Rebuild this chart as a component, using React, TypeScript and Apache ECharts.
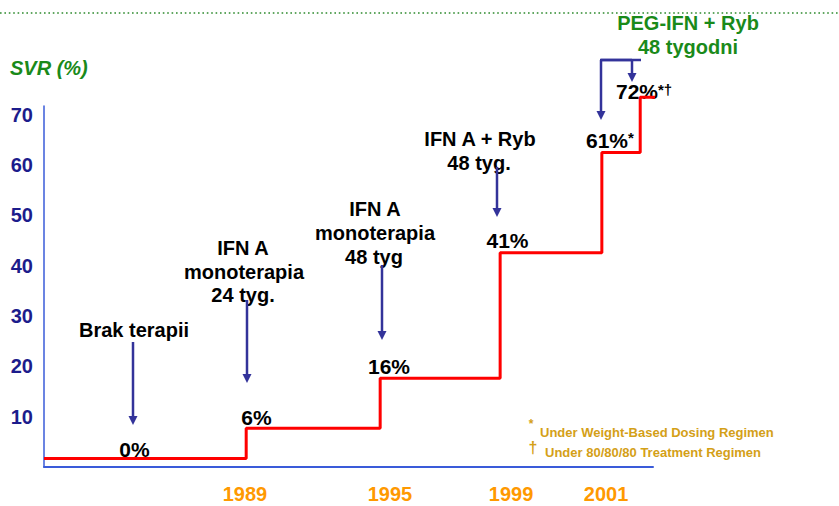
import React, { useEffect, useRef } from 'react';
import * as echarts from 'echarts';

// ---- data ----
const periods = [
  'Brak terapii',
  'IFN A monoterapia 24 tyg.',
  'IFN A monoterapia 48 tyg',
  'IFN A + Ryb 48 tyg.',
  'PEG-IFN + Ryb 48 tygodni (weight-based)',
  'PEG-IFN + Ryb 48 tygodni (80/80/80)',
];
const svrValues = [0, 6, 16, 41, 61, 72];
const periodStart = [0, 33.2, 55.2, 74.9, 91.6, 97.9]; // timeline position (0-100 scale)
const timelineEnd = 104.3;
const yearLabels = ['1989', '1995', '1999', '2001'];
const yearPositions = [33.0, 56.8, 76.7, 92.3];
const yTickValues = [10, 20, 30, 40, 50, 60, 70];
const valueTexts = ['0%', '6%', '16%', '41%', '61%', '72%'];
const valueMarks = ['', '', '', '', '*', '*†'];
const footnotes = ['Under Weight-Based Dosing Regimen', 'Under 80/80/80 Treatment Regimen'];

// ---- layout / styles ----
const FONT = '"Liberation Sans", Arial, Helvetica, sans-serif';
const BLACK = '#000000';
const GREEN = '#1a8a1a';
const ARROW = '#33339a';
const GOLD = '#d4a017';
const AXIS_BLUE = '#3a5bd9';

const txt = (text: string, x: number, y: number, size: number, fill: string, align = 'center', extra: any = {}) => ({
  type: 'text',
  x,
  y,
  silent: true,
  style: {
    text,
    x: 0,
    y: 0,
    fill,
    font: `${extra.italic ? 'italic ' : ''}bold ${size}px ${FONT}`,
    align,
    verticalAlign: 'middle',
    textAlign: align,
    textVerticalAlign: 'middle',
  },
});

const arrow = (x: number, y1: number, y2: number) => [
  { type: 'line', silent: true, shape: { x1: x, y1, x2: x, y2: y2 - 6 }, style: { stroke: ARROW, lineWidth: 2.5 } },
  {
    type: 'polygon',
    silent: true,
    shape: { points: [[x - 4.5, y2 - 9], [x + 4.5, y2 - 9], [x, y2]] },
    style: { fill: ARROW },
  },
];

const annotationLines: [string, number, number][] = [
  ['Brak terapii', 134, 330],
  ['IFN A', 243, 248],
  ['monoterapia', 244, 272],
  ['24 tyg.', 243, 295],
  ['IFN A', 375, 209],
  ['monoterapia', 375, 233],
  ['48 tyg', 374, 257],
  ['IFN A + Ryb', 480, 139],
  ['48 tyg.', 479, 163],
];
const valueLabelPos: [number, number, string][] = [
  [134.5, 449, 'center'],
  [256.5, 417, 'center'],
  [389, 366, 'center'],
  [507.5, 240, 'center'],
  [586, 140, 'left'],
  [616, 91, 'left'],
];
const markPos: [number, number][] = [
  [0, 0], [0, 0], [0, 0], [0, 0],
  [628, 137],
  [658, 89],
];
const arrows: [number, number, number][] = [
  [133, 342, 425],
  [247, 300, 383],
  [382, 265, 340],
  [497, 167, 217],
  [601, 60, 120],
  [632, 60, 82],
];

export default function App() {
  const ref = useRef<HTMLDivElement>(null);
  useEffect(() => {
    document.body.style.margin = '0';
    const chart = echarts.init(ref.current!, null, { renderer: 'svg' });

    const lineData = periodStart.map((x, i) => [x, svrValues[i]]);
    lineData.push([timelineEnd, svrValues[svrValues.length - 1]]);

    const graphics: any[] = [];
    // top dotted rule
    graphics.push({
      type: 'line', silent: true,
      shape: { x1: 0, y1: 13, x2: 839, y2: 13 },
      style: { stroke: '#2e8b2e', lineWidth: 1.6, lineDash: [1.6, 2.8] },
    });
    graphics.push(txt('SVR (%)', 10, 68, 20, GREEN, 'left', { italic: true }));
    graphics.push(txt('PEG-IFN + Ryb', 688, 23, 20, GREEN));
    graphics.push(txt('48 tygodni', 688, 47, 20, GREEN));
    annotationLines.forEach(([t, x, y]) => graphics.push(txt(t, x, y, 20, BLACK)));
    arrows.forEach(([x, a, b]) => graphics.push(...arrow(x, a, b)));
    graphics.push({ type: 'line', silent: true, shape: { x1: 601, y1: 60, x2: 632, y2: 60 }, style: { stroke: ARROW, lineWidth: 2.5 } });
    graphics.push({ type: 'line', silent: true, shape: { x1: 600, y1: 60, x2: 641, y2: 60 }, style: { stroke: ARROW, lineWidth: 2.5 } });
    valueTexts.forEach((t, i) => {
      const [x, y, al] = valueLabelPos[i];
      graphics.push(txt(t, x, y, 21, BLACK, al));
      if (valueMarks[i]) {
        const [mx, my] = markPos[i];
        graphics.push(txt(valueMarks[i], mx, my, 15, BLACK, 'left'));
      }
    });
    // footnotes
    graphics.push(txt('*', 531, 424, 12, GOLD, 'center'));
    graphics.push(txt(footnotes[0], 540, 432, 13, GOLD, 'left'));
    graphics.push(txt('†', 533, 447, 16, GOLD, 'center'));
    graphics.push(txt(footnotes[1], 545, 452, 13, GOLD, 'left'));

    chart.setOption({
      animation: false,
      backgroundColor: '#ffffff',
      grid: { left: 44, right: 186, top: 106, bottom: 39, containLabel: false, outerBoundsMode: 'none' },
      xAxis: {
        type: 'value',
        min: 0,
        max: 100,
        splitLine: { show: false },
        axisTick: { show: false },
        axisLine: { show: true, onZero: false, lineStyle: { color: AXIS_BLUE, width: 2 } },
        axisLabel: {
          customValues: yearPositions,
          formatter: (v: number) => {
            const i = yearPositions.findIndex((p) => Math.abs(p - v) < 1e-6);
            return i >= 0 ? yearLabels[i] : '';
          },
          color: '#ff9900',
          fontWeight: 'bold',
          fontSize: 20,
          fontFamily: FONT,
          margin: 17,
        },
      },
      yAxis: [
        {
          type: 'value',
          min: 0,
          max: 71.7,
          splitLine: { show: false },
          axisTick: { show: false },
          axisLine: { show: true, lineStyle: { color: AXIS_BLUE, width: 1.5 } },
          axisLabel: {
            customValues: yTickValues,
            color: '#1c1c8c',
            fontWeight: 'bold',
            fontSize: 20,
            fontFamily: FONT,
            margin: 11,
          },
        },
        {
          type: 'value',
          show: false,
          min: -1.71,
          max: 70.26,
          splitLine: { show: false },
        },
      ],
      series: [
        {
          type: 'line',
          name: 'SVR',
          step: 'end',
          xAxisIndex: 0,
          yAxisIndex: 1,
          data: lineData,
          symbol: 'none',
          clip: false,
          silent: true,
          lineStyle: { color: '#ff0000', width: 3 },
        },
      ],
      graphic: { elements: graphics },
    });
    return () => chart.dispose();
  }, []);
  return <div ref={ref} style={{ position: 'fixed', left: 0, top: 0, width: 839, height: 506 }} />;
}
